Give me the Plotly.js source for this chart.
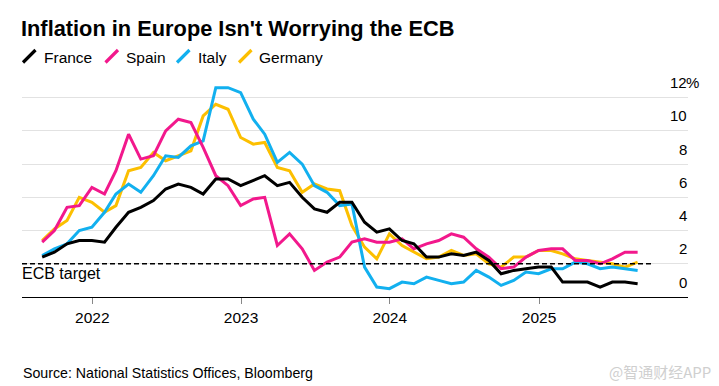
<!DOCTYPE html>
<html>
<head>
<meta charset="utf-8">
<script src="https://cdn.plot.ly/plotly-3.0.1.min.js"></script>
<style>
  html, body { margin: 0; padding: 0; background: #fff; }
  #chart { width: 719px; height: 386px; }
</style>
</head>
<body>
<div id="chart"></div>
<script>
// Month-end dates, Aug 2021 - Aug 2025
const months = [
  "2021-08-31","2021-09-30","2021-10-31","2021-11-30","2021-12-31",
  "2022-01-31","2022-02-28","2022-03-31","2022-04-30","2022-05-31","2022-06-30",
  "2022-07-31","2022-08-31","2022-09-30","2022-10-31","2022-11-30","2022-12-31",
  "2023-01-31","2023-02-28","2023-03-31","2023-04-30","2023-05-31","2023-06-30",
  "2023-07-31","2023-08-31","2023-09-30","2023-10-31","2023-11-30","2023-12-31",
  "2024-01-31","2024-02-29","2024-03-31","2024-04-30","2024-05-31","2024-06-30",
  "2024-07-31","2024-08-31","2024-09-30","2024-10-31","2024-11-30","2024-12-31",
  "2025-01-31","2025-02-28","2025-03-31","2025-04-30","2025-05-31","2025-06-30",
  "2025-07-31","2025-08-31"
];

const france = [2.4,2.7,3.2,3.4,3.4,
  3.3,4.2,5.1,5.4,5.8,6.5,6.8,6.6,6.2,7.1,7.1,6.7,
  7.0,7.3,6.7,6.9,6.0,5.3,5.1,5.7,5.7,4.5,3.9,4.1,
  3.4,3.2,2.4,2.4,2.6,2.5,2.7,2.2,1.4,1.6,1.7,1.8,
  1.8,0.9,0.9,0.9,0.6,0.9,0.9,0.8];

const spain = [3.3,4.0,5.4,5.5,6.6,
  6.2,7.6,9.8,8.3,8.5,10.0,10.7,10.5,9.0,7.3,6.7,5.5,
  5.9,6.0,3.1,3.8,2.9,1.6,2.1,2.4,3.3,3.5,3.3,3.3,
  3.5,2.9,3.2,3.4,3.8,3.6,2.9,2.4,1.7,1.8,2.4,2.8,
  2.9,2.9,2.2,2.2,2.0,2.3,2.7,2.7];

const italy = [2.5,2.9,3.2,4.0,4.2,
  5.1,6.2,6.8,6.3,7.3,8.5,8.4,9.1,9.4,12.6,12.6,12.3,
  10.7,9.8,8.1,8.7,8.0,6.7,6.3,5.5,5.6,1.8,0.6,0.5,
  0.9,0.8,1.2,1.0,0.8,0.9,1.6,1.2,0.7,1.0,1.5,1.4,
  1.7,1.7,2.1,2.0,1.7,1.8,1.7,1.6];

const germany = [3.4,4.1,4.6,6.0,5.7,
  5.1,5.5,7.6,7.8,8.7,8.2,8.5,8.8,10.9,11.6,11.3,9.6,
  9.2,9.3,7.8,7.6,6.3,6.8,6.5,6.4,4.3,3.0,2.3,3.8,
  3.1,2.7,2.3,2.4,2.8,2.5,2.6,2.0,1.8,2.4,2.4,2.8,
  2.8,2.6,2.3,2.2,2.1,2.0,1.8,2.1];

const seriesNames = ["France","Spain","Italy","Germany"];
const seriesColors = ["#000000","#f2188c","#12b0ef","#fcbf00"];
const seriesValues = [france, spain, italy, germany];

const yearTicks = ["2022-01-01","2023-01-01","2024-01-01","2025-01-01"];
const yearLabels = ["2022","2023","2024","2025"];
const yTickVals = [0,2,4,6,8,10,12];
const ecbTarget = 2;

const titleText = "Inflation in Europe Isn't Worrying the ECB";
const sourceText = "Source: National Statistics Offices, Bloomberg";
const watermark = "@智通财经APP";

// ---- layout helpers (pixel -> paper) ----
const W = 719, H = 386;
const M = {l: 22, r: 31, t: 81, b: 89};
const plotW = W - M.l - M.r, plotH = H - M.t - M.b;
const px = x => (x - M.l) / plotW;
const py = y => (H - M.b - y) / plotH;

const FONT = "'Liberation Sans', Arial, sans-serif";

// traces: draw legend-last first so France ends on top
const traces = [];
for (let i = seriesNames.length - 1; i >= 0; i--) {
  traces.push({
    type: "scatter", mode: "lines",
    x: months, y: seriesValues[i], name: seriesNames[i],
    line: {color: seriesColors[i], width: 3},
    hoverinfo: "skip", showlegend: false
  });
}

const shapes = [{
  type: "line", xref: "paper", yref: "y",
  x0: 0, x1: px(654), y0: ecbTarget, y1: ecbTarget,
  line: {color: "#000", width: 1.5, dash: "5px,3px"}
}];

const annotations = [];

// legend
const legendIcon = [23, 105.5, 177, 239];
const legendText = [43, 125, 196.5, 258];
seriesNames.forEach((n, i) => {
  shapes.push({
    type: "line", xref: "paper", yref: "paper",
    x0: px(legendIcon[i]), y0: py(62.5), x1: px(legendIcon[i] + 12.5), y1: py(50),
    line: {color: seriesColors[i], width: 3.2}
  });
  annotations.push({
    xref: "paper", yref: "paper", x: px(legendText[i] - 1), y: py(57.5),
    xanchor: "left", yanchor: "middle", showarrow: false, text: n,
    font: {family: FONT, size: 15.5, color: "#000"}
  });
});

// y tick labels above gridlines, right aligned
yTickVals.forEach(v => {
  annotations.push({
    xref: "paper", yref: "y", x: 1, y: v, xanchor: "right", yanchor: "middle",
    yshift: 15, xshift: 1, showarrow: false, text: String(v),
    font: {family: FONT, size: 15, color: "#000"}
  });
});
annotations.push({
  xref: "paper", yref: "y", x: 1, y: 12, xanchor: "left", yanchor: "middle",
  yshift: 15, xshift: -4, showarrow: false, text: "%",
  font: {family: FONT, size: 15, color: "#000"}
});

// ECB target label
annotations.push({
  xref: "paper", yref: "y", x: 0, y: ecbTarget, xanchor: "left", yanchor: "middle",
  yshift: -10, xshift: -2, showarrow: false, text: "ECB target",
  font: {family: FONT, size: 16, color: "#000"}
});

// source
annotations.push({
  xref: "paper", yref: "paper", x: px(21), y: py(373), xanchor: "left", yanchor: "middle",
  showarrow: false, text: sourceText,
  font: {family: FONT, size: 14.2, color: "#000"}
});

// watermark
annotations.push({
  xref: "paper", yref: "paper", x: px(713), y: py(371), xanchor: "right", yanchor: "middle",
  showarrow: false, text: watermark,
  font: {family: "'Noto Sans CJK SC', sans-serif", size: 15, color: "#cfcfcf"}
});

const layout = {
  width: W, height: H,
  margin: M,
  paper_bgcolor: "#fff", plot_bgcolor: "#fff",
  showlegend: false,
  title: {
    text: "<b>" + titleText + "</b>",
    x: 21 / W, xanchor: "left", xref: "container",
    y: 1 - 28.5 / H, yanchor: "middle", yref: "container",
    font: {family: FONT, size: 21.8, color: "#000"}
  },
  xaxis: {
    type: "date",
    range: ["2021-07-12 12:00", "2026-01-01 14:00"],
    tickvals: yearTicks, ticktext: yearLabels,
    ticks: "outside", ticklen: 6, tickwidth: 1, tickcolor: "#888",
    showline: true, linecolor: "#000", linewidth: 1,
    showgrid: false, zeroline: false,
    tickfont: {family: FONT, size: 15.5, color: "#000"},
    fixedrange: true
  },
  yaxis: {
    range: [0, 13],
    tickvals: [2,4,6,8,10,12],
    showticklabels: false, ticks: "",
    showgrid: true, gridcolor: "#e2e2e2", gridwidth: 1,
    zeroline: false, showline: false, fixedrange: true
  },
  shapes: shapes,
  annotations: annotations
};

Plotly.newPlot("chart", traces, layout, {displayModeBar: false, staticPlot: true});
</script>
</body>
</html>
